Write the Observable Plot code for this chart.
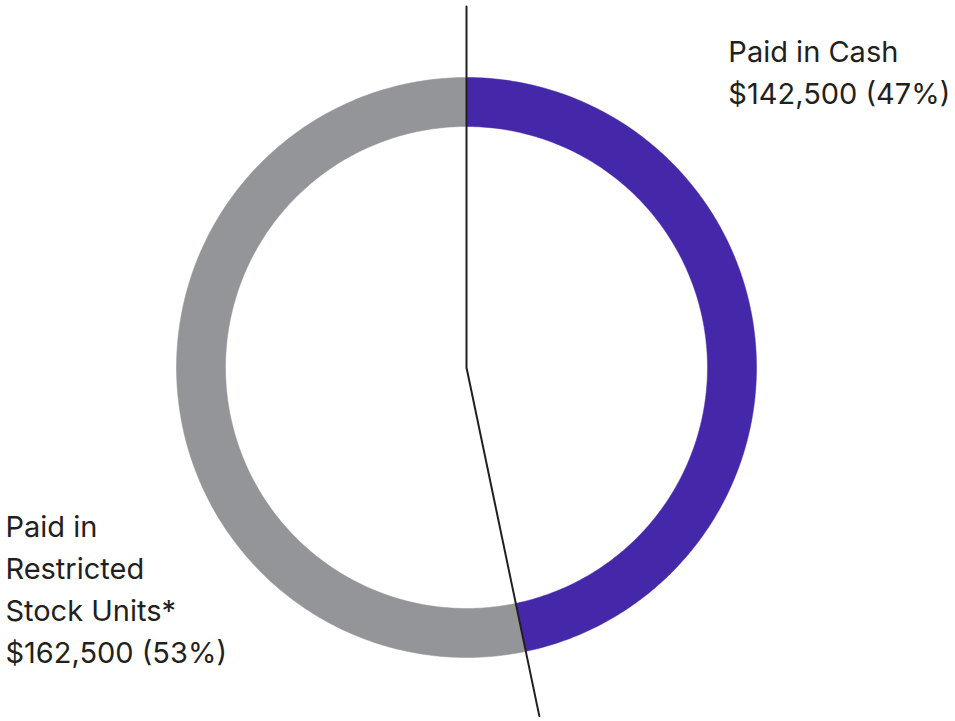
<!DOCTYPE html>
<html>
<head>
<meta charset="utf-8">
<script src="https://cdn.jsdelivr.net/npm/d3@7"></script>
<script src="https://cdn.jsdelivr.net/npm/@observablehq/plot@0.6"></script>
<style>
  html, body { margin: 0; padding: 0; background: #fff; }
  #chart svg { display: block; }
</style>
</head>
<body>
<div id="chart"></div>
<script>
// ---- Data ----
const categories = ["Paid in Cash", "Paid in Restricted Stock Units*"];
const values = [142500, 162500];
const percents = [47, 53];
const labelLines = [
  ["Paid in Cash", "$142,500 (47%)"],
  ["Paid in", "Restricted", "Stock Units*", "$162,500 (53%)"]
];
const colors = ["#4527a9", "#939598"];

// ---- Geometry (unit radius = outer edge) ----
const innerR = 0.831;
const outerR = 1;
const pie = d3.pie().sort(null).value(d => d)(values);

const slicePts = [];
pie.forEach((p, i) => {
  const n = 240;
  for (let k = 0; k <= n; k++) {
    const a = p.startAngle + (p.endAngle - p.startAngle) * k / n;
    slicePts.push({cat: categories[i], x: outerR * Math.sin(a), y: outerR * Math.cos(a)});
  }
  for (let k = n; k >= 0; k--) {
    const a = p.startAngle + (p.endAngle - p.startAngle) * k / n;
    slicePts.push({cat: categories[i], x: innerR * Math.sin(a), y: innerR * Math.cos(a)});
  }
});

// leader line: from above top, down to centre, out along the split
const split = pie[0].endAngle;
const leader = [
  {x: 0, y: 1.245},
  {x: 0, y: 0},
  {x: 1.228 * Math.sin(split), y: 1.228 * Math.cos(split)}
];

const labels = [
  {text: labelLines[0].join("\n"), x: 0.903, y: 1.028},
  {text: labelLines[1].join("\n"), x: -1.590, y: -0.755}
];

const chart = Plot.plot({
  width: 955,
  height: 721,
  marginLeft: 176,
  marginRight: 199,
  marginTop: 77,
  marginBottom: 64,
  x: {domain: [-1, 1], axis: null},
  y: {domain: [-1, 1], axis: null},
  color: {domain: categories, range: colors},
  style: {fontFamily: "Inter, 'Liberation Sans', sans-serif", background: "#fff"},
  marks: [
    Plot.line(slicePts, {x: "x", y: "y", z: "cat", fill: "cat", stroke: "cat", strokeWidth: 0.5}),
    Plot.line(leader, {x: "x", y: "y", stroke: "#231f20", strokeWidth: 2}),
    Plot.text(labels, {x: "x", y: "y", text: "text", textAnchor: "start", lineAnchor: "middle",
      lineHeight: 1.45, fontSize: 29, fill: "#231f20"})
  ]
});
document.getElementById("chart").appendChild(chart);
</script>
</body>
</html>
